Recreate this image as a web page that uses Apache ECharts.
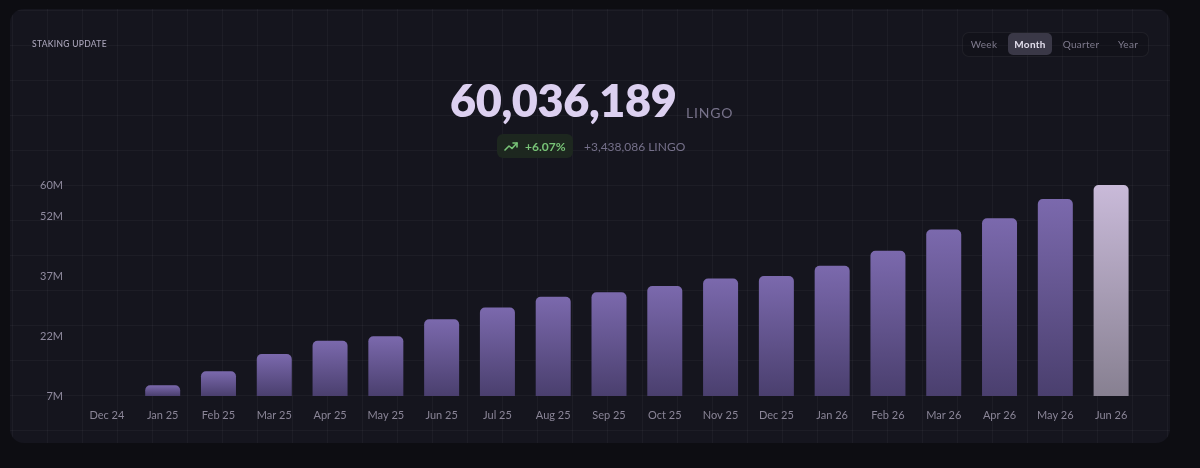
<!DOCTYPE html>
<html>
<head>
<meta charset="utf-8">
<script src="https://cdn.jsdelivr.net/npm/echarts@6/dist/echarts.min.js"></script>
<style>
  html, body { margin:0; padding:0; width:1200px; height:468px; background:#0d0d12; overflow:hidden; font-family: Lato, "Noto Sans", sans-serif; }
  #card { position:absolute; left:10px; top:9px; width:1160px; height:434px; border-radius:14px; background-color:#15151e;
    background-image: linear-gradient(rgba(255,255,255,0.035) 1px, transparent 1px), linear-gradient(90deg, rgba(255,255,255,0.035) 1px, transparent 1px);
    background-size: 35px 35px; background-position: 2px 1px; }
  #chart { position:absolute; left:0; top:0; width:1200px; height:468px; }
  .t { position:absolute; white-space:nowrap; }
  #title { left:32px; top:39px; font-size:8.5px; letter-spacing:0.3px; color:#a8a3b8; font-weight:500; }
  #btns { position:absolute; left:962px; top:32px; width:185px; height:23px; border:1px solid rgba(255,255,255,0.06); border-radius:7px; background:rgba(10,10,16,0.25); }
  #active { position:absolute; left:1008px; top:33px; width:44px; height:22px; border-radius:5px; background:#3a3847; }
  .b { position:absolute; top:38px; font-size:10px; color:#7f7b8e; transform:translateX(-50%); letter-spacing:0.3px; }
  .b.on { color:#e2deec; font-weight:700; }
  #num { left:450px; top:73px; font-size:45px; font-weight:800; color:#dcd0f0; letter-spacing:-0.4px; }
  #unit { left:686px; top:104px; font-size:14px; color:#77728a; letter-spacing:0.8px; }
  #pill { position:absolute; left:497px; top:134px; width:76px; height:24px; border-radius:6px; background:#1d271f; }
  #pct { left:525px; top:139px; font-size:12px; font-weight:700; color:#78c477; }
  #delta { left:584px; top:139px; font-size:12px; color:#75708a; letter-spacing:0px; }
</style>
</head>
<body>
<div id="card"></div>
<div id="chart"></div>
<div class="t" id="title">STAKING UPDATE</div>
<div id="btns"></div>
<div id="active"></div>
<div class="t b" style="left:984px">Week</div>
<div class="t b on" style="left:1030px">Month</div>
<div class="t b" style="left:1081px">Quarter</div>
<div class="t b" style="left:1128px">Year</div>
<div class="t" id="num">60,036,189</div>
<div class="t" id="unit">LINGO</div>
<div id="pill"></div>
<svg style="position:absolute;left:504px;top:140px" width="14" height="12" viewBox="0 0 14 12">
  <polyline points="1,10 5,6 8,8.5 13,3" fill="none" stroke="#78c477" stroke-width="1.6" stroke-linejoin="round" stroke-linecap="round"/>
  <polyline points="9,3 13,3 13,7" fill="none" stroke="#78c477" stroke-width="1.6" stroke-linejoin="round" stroke-linecap="round"/>
</svg>
<div class="t" id="pct">+6.07%</div>
<div class="t" id="delta">+3,438,086 LINGO</div>
<script>
const categories = ["Dec 24","Jan 25","Feb 25","Mar 25","Apr 25","May 25","Jun 25","Jul 25","Aug 25","Sep 25","Oct 25","Nov 25","Dec 25","Jan 26","Feb 26","Mar 26","Apr 26","May 26","Jun 26"];
const stakedMillions = [7, 9.7, 13.2, 17.55, 20.9, 22.0, 26.3, 29.2, 31.95, 33.05, 34.6, 36.5, 37.15, 39.7, 43.5, 48.8, 51.65, 56.5, 60.04];
const yAxisMin = 7, yAxisMax = 60, yAxisStep = 15;

const normalColor = new echarts.graphic.LinearGradient(0,0,0,1,[{offset:0,color:'#7b69ad'},{offset:1,color:'#4a3f6e'}]);
const lastColor = new echarts.graphic.LinearGradient(0,0,0,1,[{offset:0,color:'#c9bad9'},{offset:1,color:'#878091'}]);

const chart = echarts.init(document.getElementById('chart'), null, {renderer:'canvas'});
chart.setOption({
  backgroundColor: 'transparent',
  animation: false,
  grid: { left: 79, right: 61, top: 185, bottom: 72 },
  xAxis: {
    type: 'category', data: categories,
    axisLine: { show:false }, axisTick: { show:false },
    axisLabel: { color:'#8a8597', fontSize:11, margin:14, fontFamily:'Lato', letterSpacing:0.5 }
  },
  yAxis: {
    type: 'value', min: yAxisMin, max: yAxisMax, interval: yAxisStep,
    splitLine: { show:false }, axisLine:{show:false}, axisTick:{show:false},
    axisLabel: { color:'#8f8a9e', fontSize:11, margin:16, fontFamily:'Lato', formatter: v => Math.round(v) + 'M' }
  },
  series: [{
    type: 'bar', barWidth: 35,
    data: stakedMillions.map((v, i) => ({ value: v, itemStyle: { color: i === stakedMillions.length - 1 ? lastColor : normalColor } })),
    itemStyle: { borderRadius: [5,5,0,0] }
  }]
});
</script>
</body>
</html>
